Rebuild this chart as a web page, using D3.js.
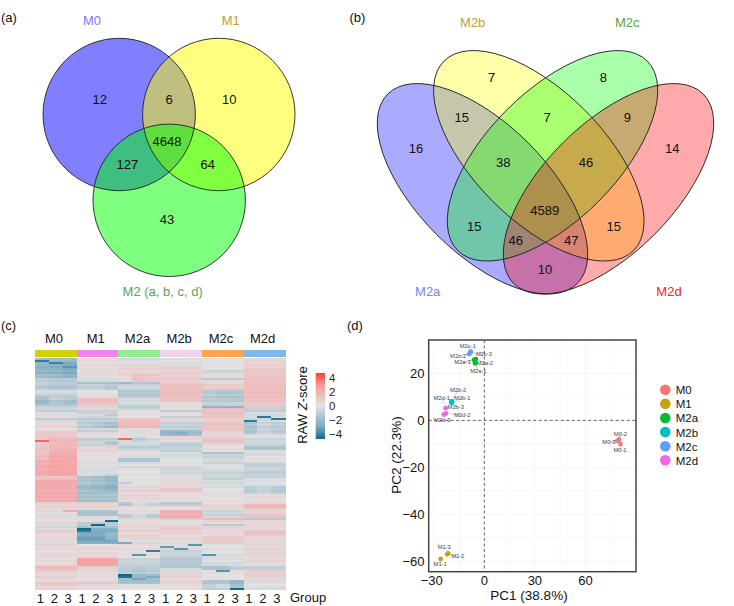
<!DOCTYPE html>
<html><head><meta charset="utf-8">
<script src="https://cdn.jsdelivr.net/npm/d3@7"></script>
<style>html,body{margin:0;padding:0;background:#fff}svg{display:block}text{font-family:"Liberation Sans",Arial,sans-serif}</style>
</head><body><svg id="c" width="734" height="606"></svg>
<script>
// ---------- panel (a)
const vennASets=["M0","M1","M2 (a, b, c, d)"];
const vennACounts=[12,6,10,4648,127,64,43];
// ---------- panel (b)
const vennBSets=["M2a","M2b","M2c","M2d"];
const vennBCounts=[16,7,15,7,8,9,14,38,46,4589,15,15,46,47,10];
// ---------- panel (c)
const heatGroups=["M0","M1","M2a","M2b","M2c","M2d"];
const heatReplicates=["1","2","3"];
const heatM0=[-1.6,-1.8,-2,-1.9,-2.2,-2,-1.8,-2.1,-1.5,-1.7,
-1,-1.2,-.9,-1,-1.5,-1.1,-.3,-.4,-.8,-1.1,
-1,-1.6,-1.5,-1.2,-.7,-.5,-.9,.2,-.2,.3,
-.9,-.3,.2,.4,.6,0,.5,.9,.8,1,
1.3,1.5,1.2,1.4,1.3,1.6,1.3,1.5,1.6,1.8,
1.5,1.8,1.7,1.8,1.9,1.7,1.9,2,1.8,.9,
1.2,1.9,2,1.8,2,1.9,1.7,1.9,1.8,2,
1.7,1.9,.7,.4,.6,.3,.5,.1,.4,-.2,
.3,.2,.5,-.3,-.5,-.2,.9,.6,.2,.3,
.5,-.2,.4,.6,.2,.5,-.1,.3,.6,.2,
-.1,.4,.1,.5,1.5,1.3,.7,.5,.3,.7,
.4,.2,1,.8,.4,.6];
const heatM1=[.2,.3,.1,.4,.2,.3,.1,.3,.4,.2,
-.3,-.4,-1.5,-.6,-.9,-.7,0,.1,-.2,.2,
1.2,1.3,1.1,1,.6,.4,-.7,-.6,.3,-.5,
-1,-.7,-1.2,-.9,-1.5,-.4,-.8,-.2,.3,.2,
-.9,-.7,-.5,-.8,.5,.3,.6,.1,.2,-.1,
.1,.2,-.3,.2,-.2,-.4,-.3,-.2,-.4,-1.6,
-1.4,-1.6,-1.3,-1.7,-2,-1.8,-1.5,-1.6,-1.2,-1.5,
-1.3,-1.6,.5,.4,.6,.3,-1.2,-1.4,-1.3,.3,
.2,.3,-1,-.9,-1.4,-2.2,-2.4,-2.5,-2.3,-2.6,
-2.8,-2.5,-2.2,0,.2,.5,.1,.6,.3,.5,
2.1,2.2,2.3,2.1,.7,.5,.4,.1,.3,.2,
-.1,.3,.9,.4,.2,.3];
const heatM2a=[-.4,-.2,.1,.5,.4,.7,.3,.6,1,.7,
.9,.8,-1.3,-.8,-.3,-.6,-1.2,-1,-1.3,-.9,
-.2,-.4,-.2,-.7,-.9,-.6,.1,-.1,.2,0,
1,1.2,1.4,1.3,1.5,.3,.1,.2,.3,0,
-.6,-.4,-.3,-.5,-1,-.8,.3,.1,.2,-.3,
-1.3,-1.4,-.3,-.1,-.5,0,.1,-.1,-.2,0,
.1,-.1,-.9,.2,.5,.4,.7,.3,.6,.4,
.5,.2,-1.1,-1.3,.3,.1,.4,.2,-1,-1.1,
.4,.2,.3,.5,.6,.4,.7,.3,.6,.5,
.4,.3,-.4,.3,.1,.4,0,.2,.3,.1,
-.7,-.5,-.6,-.7,-.8,-.9,-1,-.8,-1.6,-1.7,
-1.5,-1.6,-1.4,-.1,.2,0];
const heatM2b=[.2,.1,-.3,-.2,.5,.7,.4,.9,.6,.8,
.9,.5,.8,1.1,1.2,1.3,1.1,1.4,1.2,1.3,
1,1.2,.2,.4,.3,.1,-1,.3,.1,-.9,
.5,.6,-.8,-.6,-.9,-.7,-1.8,-2,-1.7,.4,
.5,.2,-.7,-1,-.8,-.6,-.9,-.2,-.4,-.3,
0,.1,-.1,.2,-.4,-.6,-.3,-.5,-.2,-.1,
.3,.5,.2,.4,.3,1,.9,.2,.3,.1,
.2,.3,-1,-.9,.3,.1,1.7,1.8,1.7,1.9,
1,.1,-.1,.2,.8,.9,.6,.8,.2,.3,
.4,.1,.3,.2,.3,.4,-.7,-.5,-.6,-.8,
-1.2,-1,-1.1,-1,-1.2,-.4,-.3,.6,.4,.7,
.3,.5,.6,.2,.1,.3];
const heatM2c=[.1,-.1,0,.2,-.1,0,-.6,-.4,.3,.2,
-1,.3,.4,.8,.7,.9,-1,-1.1,-.8,-1.2,
-.9,-1,-.6,-.7,-2,1.2,1,1.3,.9,1.1,
.6,.5,1,1.1,.9,1.2,.8,.4,.3,.5,
1,1.1,.9,.2,.1,.3,.1,-1.3,-.5,-.7,
-.4,-.3,-.6,-.2,-.1,-.3,-.4,-.7,-.4,-.6,
-.8,-.3,-.5,-.2,-.3,-.1,.1,.2,-.2,.1,
0,.3,.1,.5,.6,.4,-.6,-.5,-.7,-.4,
1.5,.5,.3,-1,.4,.5,.2,.4,.3,.8,
.8,.9,.7,.1,0,-.2,.1,-.1,-.4,-.2,
-.3,-.1,-.4,-.3,-1.3,-1.4,.1,.2,0,.1,
0,-1.2,-1.3,-.8,-.7,-.9];
const heatM2d=[.3,.6,.4,.7,.5,.8,1,.9,1,1.1,
1.2,1,1.3,1.2,1.4,1.3,1.2,1.4,1.1,1.3,
1,1.2,.9,.8,1,-.8,-.9,-.2,-.4,-.3,
-.5,-.3,-1.1,-.9,-1.3,-1,-1.2,-1.1,-.2,-.1,
-.6,-.4,-.5,-.7,-1.4,-1.3,-.3,-.2,-.4,.1,
.2,.1,-.6,-.8,-.7,-.5,-.8,-.9,-.7,-.8,
-.2,-.3,-.1,-.2,-1,-.9,-1.1,-.8,.2,.3,
.2,.1,.5,1.4,1.6,.8,.5,.6,1,1.1,
-1,.4,.3,.5,.4,.2,1,1.1,.9,.4,
.5,.3,.4,.6,.3,.5,.4,.6,.5,.3,
.4,.5,.3,.2,-.8,-.7,.7,.6,.8,.5,
.4,.5,.1,0,-.2,-.3];
// differences between replicates read by eye: [group, replicate, first row, last row, z difference]
const heatReplicateShifts=[[0,2,2,9,-.4],[0,1,3,9,-.1],[0,0,10,15,.2],[0,0,19,22,-.3],[0,1,19,22,.3],
[0,0,40,50,-.4],[0,2,40,50,.1],[0,1,46,58,.3],[0,2,46,58,.2],[1,2,13,15,-.3],[1,2,32,34,-.3],[1,0,32,34,.3],
[1,2,42,42,-1],[2,0,8,12,-.5],[2,1,8,12,.2],[2,1,36,41,-.4],[3,1,37,38,-.2],[3,2,36,38,.2],[4,1,16,19,-.2],
[4,2,16,21,-.2],[5,0,32,37,-.2],[5,1,32,37,.5],[5,2,32,37,.2],[1,2,58,66,-.3],[1,0,58,66,.2],[2,1,72,73,.9],
[2,2,72,73,.5],[2,1,62,62,.9],[2,2,62,62,.9],[2,1,78,79,.6],[2,1,104,108,-.2],[4,2,104,105,.5],[4,2,111,114,-.6],
[4,1,113,114,.4],[5,1,64,67,.3],[5,2,64,67,-.1]];
// replicate-specific cells: [row, column, z]
const heatStripes=[[1,0,-3.6],[2,1,-3.4],[4,2,-3],[41,0,3.4],[76,2,2],[28,5,1.5],
[81,5,-4],[83,4,-4],[85,3,-4],[86,3,-3.6],[87,5,-1.9],[88,5,-1.8],[89,5,-1.9],[90,5,-2],
[40,6,3.4],[92,6,-2.4],[96,8,-3.5],[98,7,-3],[108,6,-4],[109,6,-3.8],[110,7,-2.6],[109,8,-2.4],
[93,11,-3],[94,9,-2.8],[95,10,-3],[98,12,-3],[106,13,-3],[115,14,-4],
[31,15,-3.6],[29,16,-3.6],[30,17,-3.6]];
const zTicks=[4,2,0,-2,-4];
// ---------- panel (d)
const pcaGroups=["M0","M1","M2a","M2b","M2c","M2d"];
const pcaNames=["M0-1","M0-2","M0-3","M1-1","M1-2","M1-3","M2a-1","M2a-2","M2a-3","M2b-1","M2b-2","M2b-3","M2c-1","M2c-2","M2c-3","M2d-1","M2d-2","M2d-3"];
const pc1=[80.8,79.9,79,-25.9,-22,-21.4,-5.5,-5,-6.1,-19,-19.4,-19.6,-8,-9,-8.5,-22.9,-22.8,-24];
const pc2=[-10.1,-8.1,-8.7,-59,-57,-56.6,24.3,26.1,25.7,7.8,8.2,7.5,29.2,28.2,28.8,5.2,3,2.5];
const pcXTicks=[-30,0,30,60];
const pcYTicks=[-60,-40,-20,0,20];
const pcXMinor=[-15,15,45,75];
const pcYMinor=[-50,-30,-10,10,30];

const svg=d3.select("#c");
const txt=(x,y,s,o={})=>svg.append("text").attr("x",x).attr("y",y).attr("text-anchor",o.a||"middle")
  .attr("dominant-baseline","central").attr("font-size",o.fs||13).attr("fill",o.c||"#111").text(s);

[["(a)",1,17],["(b)",349.5,17],["(c)",1,325],["(d)",347,325]].forEach(d=>txt(d[1],d[2],d[0],{a:"start",fs:13}));

// ---- Venn (a)
const aGeom=[[119.2,114.5],[218.8,114.5],[169.2,200.3]], aR=76.2;
const aFill=["#0000ff","#ffff00","#00ff00"];
svg.append("g").selectAll("circle").data(aGeom).join("circle")
  .attr("cx",d=>d[0]).attr("cy",d=>d[1]).attr("r",aR).attr("fill",(d,i)=>aFill[i]).attr("fill-opacity",.5);
svg.append("g").selectAll("circle").data(aGeom).join("circle")
  .attr("cx",d=>d[0]).attr("cy",d=>d[1]).attr("r",aR).attr("fill","none").attr("stroke","#222").attr("stroke-width",.9);
const aPos=[[99.7,99],[169,99],[229.3,99],[167,141.3],[127.3,164.7],[207.7,164.7],[167,219.3]];
vennACounts.forEach((v,i)=>txt(aPos[i][0],aPos[i][1],v));
const aLab=[[92,20.7,"#7a7aff"],[230.7,20.7,"#c89b35"],[162.7,291.7,"#5f9e5f"]];
vennASets.forEach((s,i)=>txt(aLab[i][0],aLab[i][1],s,{c:aLab[i][2]}));

// ---- Venn (b)
const bGeom=[[482.5,188.8,45],[538.8,155.8,45],[552.5,155.8,-45],[608.5,188.8,-45]];
const bFill=["#0000ff","#ffff00","#00ff00","#ff0000"], ea=134, eb=64.8;
const ell=(g,f)=>g.selectAll("ellipse").data(bGeom).join("ellipse").attr("rx",ea).attr("ry",eb)
  .attr("transform",d=>`translate(${d[0]},${d[1]}) rotate(${d[2]})`).call(f);
ell(svg.append("g"),s=>s.attr("fill",(d,i)=>bFill[i]).attr("fill-opacity",1/3));
ell(svg.append("g"),s=>s.attr("fill","none").attr("stroke","#222").attr("stroke-width",.9));
const bPos=[[416,148.3],[491.7,77.7],[461.7,117.7],[547,117.3],[603.3,77.7],[627.3,117.7],[672.3,148.3],[503.3,162.3],[586,162.3],[544.7,210],[474.3,226],[613.7,226],[515.7,240.3],[571.3,240.3],[545,269.3]];
vennBCounts.forEach((v,i)=>txt(bPos[i][0],bPos[i][1],v));
const bLab=[[427.7,291,"#8080ff"],[472.7,22.3,"#c89b35"],[627.3,22.3,"#5f9e3f"],[669,291,"#ff2020"]];
vennBSets.forEach((s,i)=>txt(bLab[i][0],bLab[i][1],s,{c:bLab[i][2]}));

// ---- Heatmap (c)
const heatSeries=[heatM0,heatM1,heatM2a,heatM2b,heatM2c,heatM2d];
const nRows=heatM0.length;
const zColor=d3.scaleLinear().domain([-4,-2.5,0,2.5,4]).range(["#0f6a90","#7aa9bf","#e2e2e2","#f79a9c","#ff3c3c"]);
const hx=d3.scaleBand().domain(d3.range(18)).range([35,285.3]);
const hy=d3.scaleBand().domain(d3.range(nRows)).range([358,590]);
const cells=[];
heatSeries.forEach((arr,g)=>arr.forEach((z,r)=>heatReplicates.forEach((_,k)=>cells.push({r,g,k,c:g*3+k,z}))));
heatReplicateShifts.forEach(s=>cells.forEach(d=>{if(d.g===s[0]&&d.k===s[1]&&d.r>=s[2]&&d.r<=s[3])d.z+=s[4];}));
const stripe=new Map(heatStripes.map(s=>[s[0]+"_"+s[1],s[2]]));
cells.forEach(d=>{const k=d.r+"_"+d.c;if(stripe.has(k))d.z=stripe.get(k);});
svg.append("g").attr("shape-rendering","crispEdges").selectAll("rect").data(cells).join("rect")
  .attr("x",d=>hx(d.c)).attr("y",d=>hy(d.r)).attr("width",hx.bandwidth()+.3).attr("height",hy.bandwidth()+.2)
  .attr("fill",d=>zColor(d.z));
const groupColors=["#d2d000","#ee82ee","#90ee90","#eed2ee","#ffa54f","#7eb9ee"];
svg.append("g").attr("shape-rendering","crispEdges").selectAll("rect").data(heatGroups).join("rect")
  .attr("x",(d,i)=>hx(i*3)).attr("y",350).attr("width",hx.bandwidth()*3+.3).attr("height",6.8)
  .attr("fill",(d,i)=>groupColors[i]);
heatGroups.forEach((g,i)=>txt(hx(i*3)+hx.bandwidth()*1.5-1.8,338.7,g));
d3.range(18).forEach(c=>txt(hx(c)+hx.bandwidth()/2-1.6,598,heatReplicates[c%3]));
txt(290,597,"Group",{a:"start"});
// colour bar
const defs=svg.append("defs");
const lg=defs.append("linearGradient").attr("id","zg").attr("x1",0).attr("x2",0).attr("y1",0).attr("y2",1);
lg.selectAll("stop").data(zColor.domain().slice().reverse()).join("stop")
  .attr("offset",d=>(4-d)/8).attr("stop-color",d=>zColor(d));
const zY=d3.scaleLinear().domain([-4,4]).range([434,378]);
svg.append("rect").attr("x",315.7).attr("width",9.3).attr("y",zY(4)-5).attr("height",zY(-4)-zY(4)+10).attr("fill","url(#zg)");
zTicks.forEach(t=>txt(329,zY(t),(t<0?"\u2212":"")+Math.abs(t),{a:"start",fs:11.5,c:"#222"}));
const zl=svg.append("text").attr("transform","translate(302,405) rotate(-90)").attr("text-anchor","middle")
  .attr("dominant-baseline","central").attr("font-size",13).attr("fill","#111");
zl.append("tspan").text("RAW ");zl.append("tspan").attr("font-style","italic").text("Z");zl.append("tspan").text("-score");

// ---- PCA (d)
const px=d3.scaleLinear().domain([-33,90]).range([428.7,636]);
const py=d3.scaleLinear().domain([-64.4,34.2]).range([571.7,340]);
const gG=svg.append("g").attr("stroke","#f4f4f4").attr("stroke-width",.8);
pcXTicks.concat(pcXMinor).forEach(t=>gG.append("line").attr("x1",px(t)).attr("x2",px(t)).attr("y1",340).attr("y2",571.7));
pcYTicks.concat(pcYMinor).forEach(t=>gG.append("line").attr("y1",py(t)).attr("y2",py(t)).attr("x1",428.7).attr("x2",636));
const dash=svg.append("g").attr("stroke","#555").attr("stroke-width",.9).attr("stroke-dasharray","3 2.5");
dash.append("line").attr("x1",px(0)).attr("x2",px(0)).attr("y1",340).attr("y2",571.7);
dash.append("line").attr("y1",py(0)).attr("y2",py(0)).attr("x1",428.7).attr("x2",636);
const pcaColors=["#F8766D","#c4a40a","#00BA38","#00BFC4","#619CFF","#F564E3"];
const pcaPts=pcaNames.map((n,i)=>({n,x:pc1[i],y:pc2[i],g:Math.floor(i/3)}));
// label offsets from the point, in pixels
const labOff=[[-.5,6],[1.5,-5.5],[-8.5,1.5],[-.5,4.5],[10.5,2],[-4,-6],[3.3,7.5],[9,3.7],[-11.5,2.3],[10,-3.7],[6.5,-11],[4.5,4.5],[-3,-6],[-11,2],[14,1.5],[-4,-9.7],[16.3,2],[-1.7,6]];
const lines=svg.append("g").attr("stroke","#999").attr("stroke-width",.4);
pcaPts.forEach((p,i)=>{lines.append("line").attr("x1",px(p.x)).attr("y1",py(p.y)).attr("x2",px(p.x)+labOff[i][0]).attr("y2",py(p.y)+labOff[i][1]);});
svg.append("g").selectAll("circle").data(pcaPts).join("circle").attr("cx",d=>px(d.x)).attr("cy",d=>py(d.y)).attr("r",2.4)
  .attr("fill",d=>pcaColors[d.g]);
pcaPts.forEach((p,i)=>txt(px(p.x)+labOff[i][0],py(p.y)+labOff[i][1],p.n,{fs:5.8,c:"#444"}));
svg.append("rect").attr("x",428.7).attr("y",340).attr("width",207.3).attr("height",231.7).attr("fill","none").attr("stroke","#444").attr("stroke-width",1.5);
pcXTicks.forEach(t=>txt(px(t)-(t<0?2:0),585-4.6,(t<0?"\u2212":"")+Math.abs(t),{fs:13}));
pcYTicks.forEach(t=>txt(424.5,py(t),(t<0?"\u2212":"")+Math.abs(t),{a:"end",fs:13}));
txt(529,595,"PC1 (38.8%)",{fs:13.5});
svg.append("text").attr("transform","translate(396,455) rotate(-90)").attr("text-anchor","middle").attr("dominant-baseline","central")
  .attr("font-size",13.5).attr("fill","#111").text("PC2 (22.3%)");
// legend
const legY=d3.scalePoint().domain(pcaGroups).range([389.7,460.3]);
svg.append("g").selectAll("circle").data(pcaGroups).join("circle").attr("cx",665.3).attr("cy",d=>legY(d)).attr("r",5.3)
  .attr("fill",(d,i)=>pcaColors[i]);
pcaGroups.forEach(g=>txt(675.7,legY(g)+.5,g,{a:"start",fs:11.5}));
</script></body></html>
